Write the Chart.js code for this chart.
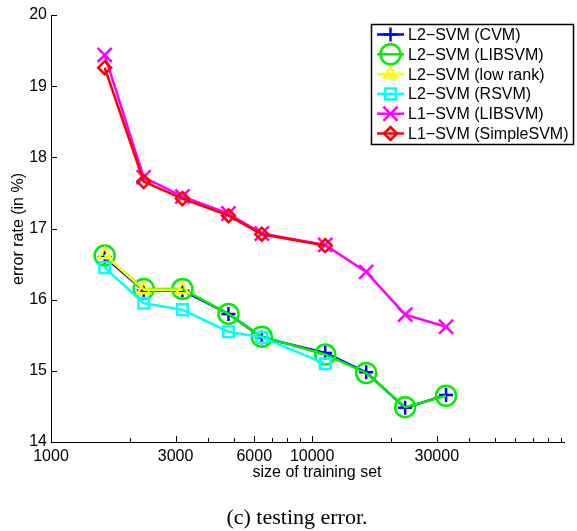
<!DOCTYPE html>
<html>
<head>
<meta charset="utf-8">
<script src="https://cdn.jsdelivr.net/npm/chart.js"></script>
<style>
	html, body { margin: 0; padding: 0; background: #fff; overflow: hidden; }
	canvas { display: block; }
</style>
</head>
<body>
<canvas id="errChart" width="577" height="531"></canvas>
<script>
// training set sizes (adult a1a..a9a)
const sizes = [1605, 2265, 3185, 4781, 6414, 11220, 16100, 22696, 32561];

// testing error (%) per method
const cvmL2 = [16.60, 16.13, 16.13, 15.80, 15.47, 15.25, 14.98, 14.48, 14.66];
const libsvmL2 = [16.62, 16.15, 16.15, 15.80, 15.48, 15.23, 14.97, 14.49, 14.65];
const lowRankL2 = [16.63, 16.14, 16.14];
const rsvmL2 = [16.45, 15.95, 15.86, 15.55, 15.47, 15.10];
const libsvmL1 = [19.44, 17.72, 17.45, 17.21, 16.93, 16.77, 16.39, 15.79, 15.62];
const simpleSvmL1 = [19.26, 17.66, 17.42, 17.18, 16.92, 16.76];

const seriesNames = ["L2\u2212SVM (CVM)", "L2\u2212SVM (LIBSVM)", "L2\u2212SVM (low rank)",
	"L2\u2212SVM (RSVM)", "L1\u2212SVM (LIBSVM)", "L1\u2212SVM (SimpleSVM)"];

// axis ticks
const xTickLabels = [1000, 3000, 6000, 10000, 30000];
const xMinorTicks = [2000, 4000, 5000, 7000, 8000, 9000, 20000, 40000, 50000, 60000, 70000, 80000, 90000];
const yTicks = [14, 15, 16, 17, 18, 19, 20];

const font = "'Liberation Sans', Arial, sans-serif";

function points(values) {
	return values.map((v, i) => ({ x: sizes[i], y: v }));
}

const styles = [
	{ color: "#0000ff", pointStyle: "cross", radius: 7 },
	{ color: "#00ee00", pointStyle: "circle", radius: 10 },
	{ color: "#ffff00", pointStyle: "triangle", radius: 7 },
	{ color: "#00ffff", pointStyle: "rect", radius: 7.5 },
	{ color: "#ff00ff", pointStyle: "crossRot", radius: 10 },
	{ color: "#ff0000", pointStyle: "rectRot", radius: 6.5 },
];
const allValues = [cvmL2, libsvmL2, lowRankL2, rsvmL2, libsvmL1, simpleSvmL1];

const datasets = allValues.map((vals, i) => ({
	label: seriesNames[i],
	data: points(vals),
	borderColor: styles[i].color,
	backgroundColor: "rgba(0,0,0,0)",
	borderWidth: 2.5,
	pointStyle: styles[i].pointStyle,
	pointRadius: styles[i].radius,
	pointHoverRadius: styles[i].radius,
	pointBorderWidth: 2.5,
	pointBorderColor: styles[i].color,
	pointBackgroundColor: "rgba(0,0,0,0)",
	tension: 0,
	fill: false,
	// later series drawn on top
	order: allValues.length - i,
}));

// inward tick marks, like the matlab axes
const tickMarks = {
	id: "tickMarks",
	afterDraw(chart) {
		const ctx = chart.ctx;
		const xs = chart.scales.x, ys = chart.scales.y;
		const area = chart.chartArea;
		ctx.save();
		ctx.strokeStyle = "#000";
		ctx.lineWidth = 1;
		ctx.beginPath();
		xTickLabels.concat(xMinorTicks).forEach(v => {
			const px = Math.round(xs.getPixelForValue(v)) + 0.5;
			if (px > area.right) return;
			const len = xTickLabels.includes(v) ? 6 : 4;
			ctx.moveTo(px, area.bottom);
			ctx.lineTo(px, area.bottom - len);
		});
		yTicks.forEach(v => {
			const py = Math.round(ys.getPixelForValue(v)) + 0.5;
			ctx.moveTo(area.left, py);
			ctx.lineTo(area.left + 6, py);
		});
		ctx.stroke();
		ctx.restore();
	}
};

// legend box with line + marker samples
const boxLegend = {
	id: "boxLegend",
	afterDraw(chart) {
		const ctx = chart.ctx;
		const left = 371, top = 24, w = 202, h = 120;
		ctx.save();
		ctx.fillStyle = "#fff";
		ctx.fillRect(left, top, w, h);
		ctx.strokeStyle = "#000";
		ctx.lineWidth = 1.5;
		ctx.strokeRect(left + 0.5, top + 0.5, w, h);
		chart.data.datasets.forEach((ds, i) => {
			const y = top + 10.5 + i * 19.8;
			ctx.strokeStyle = ds.borderColor;
			ctx.lineWidth = 2.5;
			ctx.beginPath();
			ctx.moveTo(377, y);
			ctx.lineTo(404, y);
			ctx.stroke();
			ctx.fillStyle = "rgba(0,0,0,0)";
			Chart.helpers.drawPoint(ctx, {
				pointStyle: ds.pointStyle,
				radius: ds.pointRadius,
				rotation: 0,
				borderWidth: 2.5,
			}, 390.5, y);
			ctx.fillStyle = "#000";
			ctx.font = "16px " + font;
			ctx.textAlign = "left";
			ctx.textBaseline = "middle";
			ctx.fillText(ds.label, 408, y + 1);
		});
		ctx.restore();
	}
};

// axis titles and the caption under the plot
const captions = {
	id: "captions",
	afterDraw(chart) {
		const ctx = chart.ctx;
		ctx.save();
		ctx.fillStyle = "#000";
		ctx.font = "16px " + font;
		ctx.textAlign = "center";
		ctx.textBaseline = "alphabetic";
		ctx.fillText("size of training set", 317, 477);
		ctx.translate(19, 229);
		ctx.rotate(-Math.PI / 2);
		ctx.textBaseline = "middle";
		ctx.fillText("error rate (in %)", 0, 0);
		ctx.setTransform(1, 0, 0, 1, 0, 0);
		ctx.font = "22px 'Liberation Serif', 'Times New Roman', serif";
		ctx.textBaseline = "alphabetic";
		ctx.fillText("(c) testing error.", 297, 524);
		ctx.restore();
	}
};

new Chart(document.getElementById("errChart"), {
	type: "line",
	data: { datasets: datasets },
	options: {
		responsive: false,
		animation: false,
		devicePixelRatio: 1,
		layout: { padding: { left: 0, right: 1, top: 15, bottom: 0 } },
		plugins: {
			legend: { display: false },
			tooltip: { enabled: false },
		},
		scales: {
			x: {
				type: "logarithmic",
				bounds: "data",
				min: 1000,
				max: 92500,
				afterBuildTicks: scale => {
					scale.ticks = xTickLabels.concat(xMinorTicks).sort((a, b) => a - b).map(v => ({ value: v }));
				},
				afterFit: scale => {
					scale.height = 89;
					scale.paddingLeft = 0;
					scale.paddingRight = 0;
				},
				grid: { display: false, drawTicks: false },
				border: { display: true, color: "#000", width: 1 },
				ticks: {
					autoSkip: false,
					maxRotation: 0,
					padding: 5,
					color: "#000",
					font: { family: font, size: 16 },
					callback: v => xTickLabels.includes(v) ? String(v) : "",
				},
			},
			y: {
				type: "linear",
				min: 14,
				max: 20,
				afterBuildTicks: scale => {
					scale.ticks = yTicks.map(v => ({ value: v }));
				},
				afterFit: scale => {
					scale.width = 51;
					scale.paddingTop = 0;
					scale.paddingBottom = 0;
				},
				grid: { display: false, drawTicks: false },
				border: { display: true, color: "#000", width: 1 },
				ticks: {
					padding: 4,
					color: "#000",
					font: { family: font, size: 16 },
				},
			},
		},
	},
	plugins: [tickMarks, boxLegend, captions],
});
</script>
</body>
</html>
